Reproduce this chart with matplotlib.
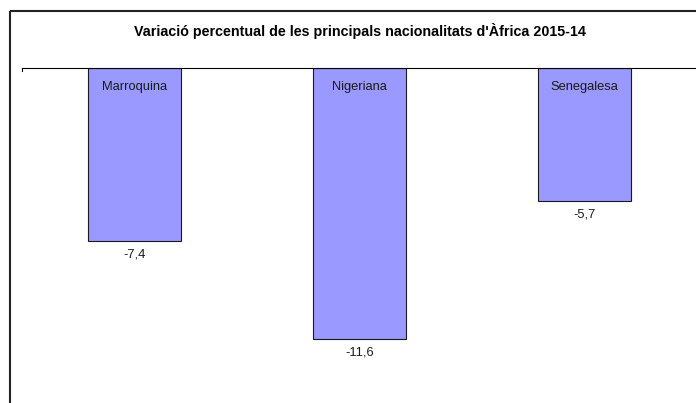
import matplotlib
matplotlib.use("Agg")
import matplotlib.pyplot as plt
from matplotlib.lines import Line2D

categories = ["Marroquina", "Nigeriana", "Senegalesa"]
values = [-7.4, -11.6, -5.7]
value_labels = ["-7,4", "-11,6", "-5,7"]
title = "Variació percentual de les principals nacionalitats d'Àfrica 2015-14"

plt.rcParams['font.family'] = ['Liberation Sans', 'DejaVu Sans']

W, H = 696, 403
fig = plt.figure(figsize=(W / 100, H / 100), dpi=100)
fig.patch.set_facecolor("white")

# frame lines (left and top)
fig.add_artist(Line2D([10 / W, 10 / W], [0, 1 - 11 / H], color="#222222", lw=1.5,
                      solid_capstyle="butt", transform=fig.transFigure))
fig.add_artist(Line2D([10 / W, 1.0], [1 - 11 / H, 1 - 11 / H], color="#222222", lw=1.5,
                      solid_capstyle="butt", transform=fig.transFigure))

slot = 225.0  # pixels per category
ax_left = 22 / W
ax_top = 1 - 68 / H
ax = fig.add_axes([ax_left, 0, 1.0 - ax_left, ax_top])
ax.set_facecolor("none")

x = list(range(len(categories)))
ax.bar(x, values, width=0.41, color="#9999ff", edgecolor="#1a1a1a", linewidth=0.8, zorder=2)
ax.set_xlim(-0.5, -0.5 + (W - 22) / slot)
ax.set_ylim(-(H - 68) / 23.4, 0)

for s in ["left", "right", "bottom"]:
    ax.spines[s].set_visible(False)
ax.spines["top"].set_color("#000000")
ax.spines["top"].set_linewidth(0.8)
ax.set_xticks([])
ax.set_yticks([])
ax.add_line(Line2D([0, 0], [1, 1 - 3 / (H - 68)], color="black", lw=0.8,
                   transform=ax.transAxes, clip_on=False))

for i, (c, v, lab) in enumerate(zip(categories, values, value_labels)):
    ax.annotate(c, xy=(i, 0), xytext=(0, -19), textcoords="offset pixels",
                ha="center", va="center", fontsize=9.3, color="#1a1a1a")
    ax.annotate(lab, xy=(i, v), xytext=(0, -13), textcoords="offset pixels",
                ha="center", va="center", fontsize=9.3, color="#1a1a1a")

fig.text(360 / W, 1 - 31 / H, title, ha="center", va="center", fontsize=10.3, fontweight="bold")

fig.savefig("out.png", dpi=100)
